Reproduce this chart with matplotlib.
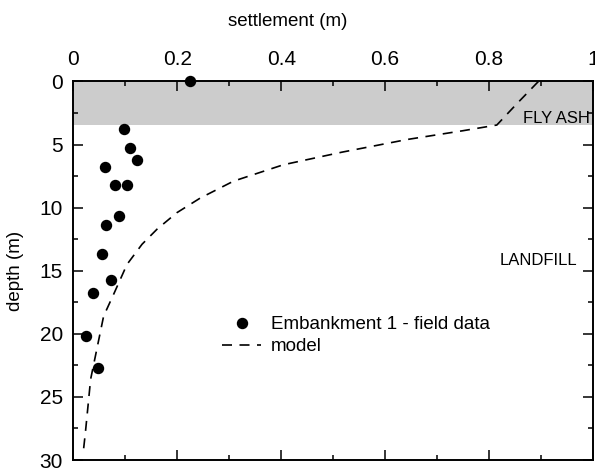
import matplotlib
matplotlib.use("Agg")
import matplotlib.pyplot as plt
from matplotlib.ticker import MultipleLocator

plt.rcParams['font.family'] = ['Liberation Sans', 'DejaVu Sans']

# field measurements: settlement (m) vs depth (m)
field_settlement = [0.225, 0.097, 0.108, 0.122, 0.060, 0.079, 0.103, 0.087,
                    0.062, 0.055, 0.072, 0.038, 0.024, 0.047]
field_depth = [0.0, 3.75, 5.25, 6.2, 6.8, 8.2, 8.2, 10.7,
               11.4, 13.7, 15.7, 16.8, 20.2, 22.7]

# model prediction
model_settlement = [0.895, 0.855, 0.815, 0.75, 0.642, 0.517, 0.404, 0.308,
                    0.244, 0.199, 0.161, 0.132, 0.103, 0.078, 0.058, 0.046,
                    0.033, 0.023, 0.019]
model_depth = [0.0, 1.7, 3.45, 3.9, 4.6, 5.6, 6.6, 7.9,
               9.24, 10.4, 11.7, 12.9, 14.5, 16.8, 18.6, 21.0,
               23.6, 27.8, 29.3]

fly_ash_bottom = 3.45

fig = plt.figure(figsize=(5.95, 4.76), dpi=100)
ax = fig.add_axes([0.1235, 0.0336, 0.873, 0.7952])

ax.axhspan(0, fly_ash_bottom, color='#cccccc', lw=0, zorder=0)

ax.plot(field_settlement, field_depth, 'o', color='black', markersize=7.2,
        clip_on=False, zorder=5, label='Embankment 1 - field data')
ax.plot(model_settlement, model_depth, color='black', lw=1.2,
        dashes=(6, 4.5), label='model', zorder=4)

ax.set_xlim(0, 1)
ax.set_ylim(30, 0)

ax.xaxis.set_major_locator(MultipleLocator(0.2))
ax.xaxis.set_minor_locator(MultipleLocator(0.1))
ax.yaxis.set_major_locator(MultipleLocator(5))
ax.yaxis.set_minor_locator(MultipleLocator(2.5))
ax.xaxis.set_major_formatter(plt.FuncFormatter(lambda v, p: f'{v:g}'))

ax.xaxis.set_label_position('top')
ax.tick_params(which='both', direction='in', top=True, bottom=True,
               left=True, right=True, labeltop=True, labelbottom=False,
               width=1.1, labelsize=15)
ax.tick_params(which='major', length=7.2)
ax.tick_params(axis='x', which='major', pad=9)
ax.tick_params(axis='y', which='major', pad=7.5)
ax.tick_params(which='minor', length=3.6)

for s in ax.spines.values():
    s.set_linewidth(1.4)

ax.set_xlabel('settlement (m)', fontsize=13.5)
ax.xaxis.set_label_coords(0.4125, 1.147)
ax.set_ylabel('depth (m)', fontsize=13.5)
ax.yaxis.set_label_coords(-0.095, 0.5)

ax.text(0.995, 2.9, 'FLY ASH', ha='right', va='center', fontsize=12)
ax.text(0.970, 14.2, 'LANDFILL', ha='right', va='center', fontsize=12)

ax.legend(loc='upper left', bbox_to_anchor=(0.2856, 0.380), frameon=False,
          fontsize=13.5, handlelength=2.1, handletextpad=0.53,
          labelspacing=0.25, borderaxespad=0, borderpad=0)

fig.savefig('out.png', dpi=100)
